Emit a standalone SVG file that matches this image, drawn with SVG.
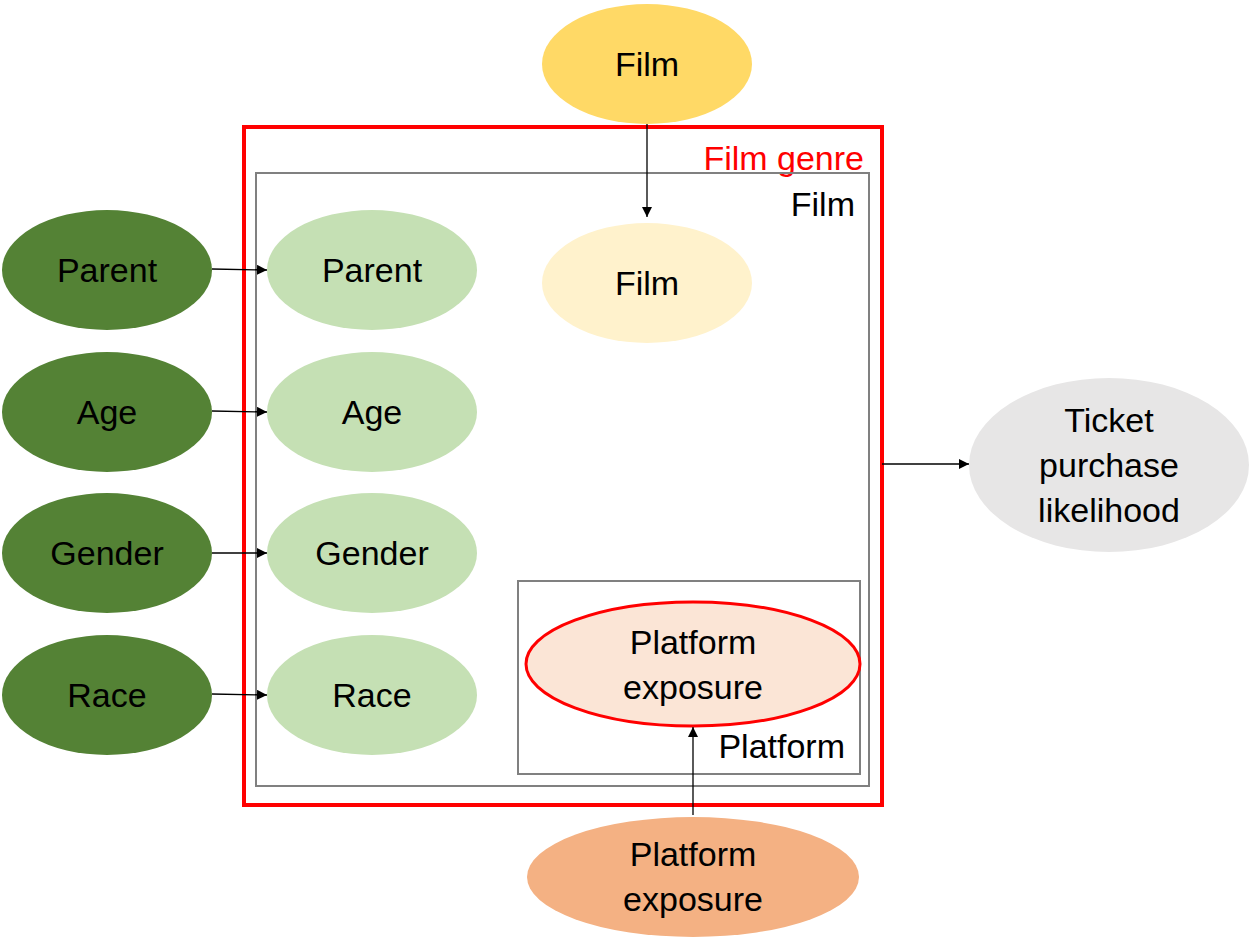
<svg xmlns="http://www.w3.org/2000/svg" width="1252" height="944" viewBox="0 0 1252 944">
<defs>
<style>
text{font-family:"Liberation Sans",Arial,sans-serif;font-size:34px;fill:#000;text-anchor:middle}
.lbl{text-anchor:end}
.conn line{stroke:#000;stroke-width:1.3;marker-end:url(#ah)}
.dg{fill:#548235}
.lg{fill:#C5E0B4}
.box{fill:none;stroke:#808080;stroke-width:2}
</style>
<marker id="ah" viewBox="0 0 10 10" refX="10" refY="5" markerWidth="10" markerHeight="10" markerUnits="userSpaceOnUse" orient="auto"><path d="M0,0L10,5L0,10z" fill="#000"/></marker>
</defs>
<rect width="1252" height="944" fill="#fff"/>
<g id="film-genre-plate"><rect x="244" y="127" width="638" height="678" fill="none" stroke="#FF0000" stroke-width="4"/><text class="lbl" x="864" y="170" style="fill:#FF0000">Film genre</text></g>
<g id="film-plate"><rect class="box" x="256" y="173" width="613" height="613"/><text class="lbl" x="855" y="216">Film</text></g>
<g id="platform-plate"><rect class="box" x="518" y="581" width="342" height="193"/><text class="lbl" x="845" y="758">Platform</text></g>
<g id="film-top"><ellipse cx="647" cy="64" rx="105" ry="60" fill="#FFD966"/><text x="647" y="76">Film</text></g>
<g id="film-inner"><ellipse cx="647" cy="283" rx="105" ry="60" fill="#FFF2CC"/><text x="647" y="295">Film</text></g>
<g id="parent-out"><ellipse class="dg" cx="107" cy="270" rx="105" ry="60"/><text x="107" y="282">Parent</text></g>
<g id="age-out"><ellipse class="dg" cx="107" cy="412" rx="105" ry="60"/><text x="107" y="424">Age</text></g>
<g id="gender-out"><ellipse class="dg" cx="107" cy="553" rx="105" ry="60"/><text x="107" y="565">Gender</text></g>
<g id="race-out"><ellipse class="dg" cx="107" cy="695" rx="105" ry="60"/><text x="107" y="707">Race</text></g>
<g id="parent-in"><ellipse class="lg" cx="372" cy="270" rx="105" ry="60"/><text x="372" y="282">Parent</text></g>
<g id="age-in"><ellipse class="lg" cx="372" cy="412" rx="105" ry="60"/><text x="372" y="424">Age</text></g>
<g id="gender-in"><ellipse class="lg" cx="372" cy="553" rx="105" ry="60"/><text x="372" y="565">Gender</text></g>
<g id="race-in"><ellipse class="lg" cx="372" cy="695" rx="105" ry="60"/><text x="372" y="707">Race</text></g>
<g id="ticket"><ellipse cx="1109" cy="465" rx="140" ry="87" fill="#E7E6E6"/><text x="1109" y="432">Ticket</text><text x="1109" y="477">purchase</text><text x="1109" y="522">likelihood</text></g>
<g id="platform-in"><ellipse cx="693" cy="664" rx="167" ry="62" fill="#FBE5D6" stroke="#FF0000" stroke-width="3"/><text x="693" y="654">Platform</text><text x="693" y="699">exposure</text></g>
<g id="platform-out"><ellipse cx="693" cy="877" rx="166" ry="60" fill="#F4B183"/><text x="693" y="866">Platform</text><text x="693" y="911">exposure</text></g>
<g class="conn" id="connectors">
<line x1="647" y1="124" x2="647" y2="217"/>
<line x1="212" y1="269" x2="267" y2="270"/>
<line x1="212" y1="411" x2="267" y2="412"/>
<line x1="212" y1="553" x2="267" y2="553"/>
<line x1="212" y1="694" x2="267" y2="695"/>
<line x1="882" y1="464" x2="969" y2="464"/>
<line x1="693" y1="815" x2="693" y2="727"/>
</g>
</svg>
